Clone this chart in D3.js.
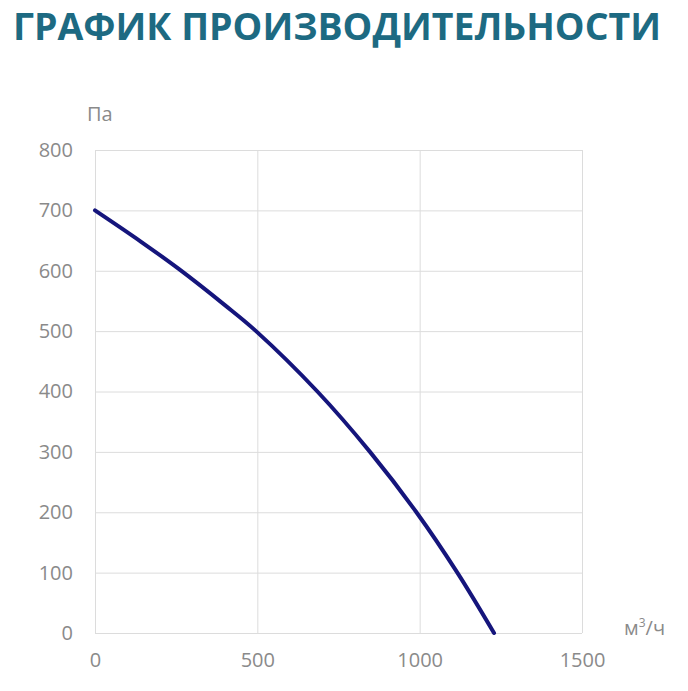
<!DOCTYPE html>
<html>
<head>
<meta charset="utf-8">
<script src="https://cdn.jsdelivr.net/npm/d3@7"></script>
<style>
  html, body { margin: 0; padding: 0; background: #fff; }
  svg text { font-family: "Open Sans", sans-serif; }
</style>
</head>
<body>
<div id="chart"></div>
<script>
// Performance curve: flow (m3/h) vs pressure (Pa)
const flow = [0, 142, 258, 400, 496, 685, 847, 990, 1116, 1229];
const pressure = [700, 648, 603, 543, 500, 400, 300, 200, 100, 0];
const xTicks = [0, 500, 1000, 1500];
const yTicks = [0, 100, 200, 300, 400, 500, 600, 700, 800];
const title = "ГРАФИК ПРОИЗВОДИТЕЛЬНОСТИ";
const yUnit = "Па";

const data = flow.map((f, i) => ({ x: f, y: pressure[i] }));

const W = 688, H = 691;
const margin = {top: 150, right: 106, bottom: 58, left: 95};
const width = W - margin.left - margin.right;
const height = H - margin.top - margin.bottom;

const root = d3.select("#chart")
    .append("svg")
    .attr("width", W)
    .attr("height", H);

// Title
root.append("text")
    .attr("x", 13)
    .attr("y", 40)
    .attr("fill", "#1d6a82")
    .attr("font-size", 37)
    .attr("font-weight", 700)
    .attr("textLength", 648)
    .attr("lengthAdjust", "spacingAndGlyphs")
    .text(title);

const svg = root.append("g")
    .attr("transform", `translate(${margin.left},${margin.top})`);

const x = d3.scaleLinear().domain([0, 1500]).range([0, width]);
const y = d3.scaleLinear().domain([0, 800]).range([height, 0]);

// Grid
svg.append("g")
    .call(d3.axisLeft(y).tickValues(yTicks).tickSize(-width).tickFormat(""))
    .call(g => g.select(".domain").remove())
    .selectAll("line").attr("stroke", "#dcdcdc");

svg.append("g")
    .call(d3.axisBottom(x).tickValues(xTicks).tickSize(height).tickFormat(""))
    .call(g => g.select(".domain").remove())
    .selectAll("line")
    .attr("stroke", "#dcdcdc");

// Y axis labels
svg.append("g")
    .call(d3.axisLeft(y).tickValues(yTicks).tickSize(0).tickPadding(22).tickFormat(d3.format("d")))
    .call(g => g.select(".domain").remove())
    .selectAll("text")
    .attr("fill", "#8a8a8a")
    .attr("font-size", 20)
    .attr("font-family", "Open Sans, sans-serif");

// X axis labels
svg.append("g")
    .attr("transform", `translate(0,${height})`)
    .call(d3.axisBottom(x).tickValues(xTicks).tickSize(0).tickPadding(20).tickFormat(d3.format("d")))
    .call(g => g.select(".domain").remove())
    .selectAll("text")
    .attr("fill", "#8a8a8a")
    .attr("font-size", 20)
    .attr("font-family", "Open Sans, sans-serif");

// Units
svg.append("text")
    .attr("x", -8)
    .attr("y", -29)
    .attr("fill", "#8a8a8a")
    .attr("font-size", 20)
    .text(yUnit);

const unitX = svg.append("text")
    .attr("x", width + 42)
    .attr("y", height + 2)
    .attr("fill", "#8a8a8a")
    .attr("font-size", 20);
unitX.append("tspan").text("м");
unitX.append("tspan").attr("font-size", 12).attr("dy", -8).text("3");
unitX.append("tspan").attr("dy", 8).text("/ч");

// Curve
const line = d3.line()
    .x(d => x(d.x))
    .y(d => y(d.y))
    .curve(d3.curveCatmullRom.alpha(0.5));

svg.append("path")
    .datum(data)
    .attr("fill", "none")
    .attr("stroke", "#15157c")
    .attr("stroke-width", 4)
    .attr("stroke-linecap", "round")
    .attr("d", line);
</script>
</body>
</html>
